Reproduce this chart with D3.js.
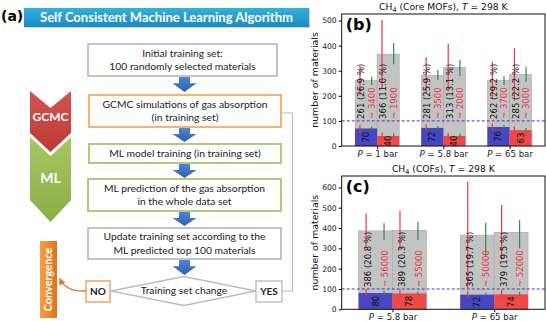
<!DOCTYPE html>
<html>
<head>
<meta charset="utf-8">
<script src="https://cdn.jsdelivr.net/npm/d3@7"></script>
<style>
  html, body { margin: 0; padding: 0; background: #fff; }
  svg { display: block; }
</style>
</head>
<body>
<svg id="fig" width="546" height="321"></svg>
<script>
// panel (b): CH4 in core MOFs
const mofPressures = ['1', '5.8', '65'];
const mofFoundA = [261, 281, 262];
const mofPctA = ['26.9', '25.9', '29.2'];
const mofCostA = [3400, 3500, 3700];
const mofTopA = [70, 72, 76];
const mofFoundB = [366, 313, 285];
const mofPctB = ['11.0', '13.1', '22.2'];
const mofCostB = [1900, 2000, 3000];
const mofTopB = [40, 40, 63];
const mofRedErrA = [[203, 319], [208, 354], [188, 336]];
const mofRedErrB = [[229, 503], [219, 407], [180, 390]];
const mofGreenErrA = [[243, 276], [263, 303], [243, 279]];
const mofGreenErrB = [[326, 410], [279, 343], [256, 316]];
const mofTopRedErrA = [[55, 85], [58, 86], [62, 90]];
const mofTopRedErrB = [[25, 55], [28, 52], [48, 78]];
const mofTopGreenErrA = [[62, 78], [65, 80], [70, 84]];
const mofTopGreenErrB = [[32, 50], [33, 50], [55, 72]];
const mofTicks = [0, 100, 200, 300, 400, 500];

// panel (c): CH4 in COFs
const cofPressures = ['5.8', '65'];
const cofFoundA = [386, 365];
const cofPctA = ['20.8', '19.7'];
const cofCostA = [56000, 50000];
const cofTopA = [80, 72];
const cofFoundB = [389, 379];
const cofPctB = ['20.3', '19.5'];
const cofCostB = [55000, 52000];
const cofTopB = [78, 74];
const cofRedErrA = [[300, 472], [102, 628]];
const cofRedErrB = [[293, 485], [245, 513]];
const cofGreenErrA = [[341, 423], [259, 426]];
const cofGreenErrB = [[341, 431], [300, 439]];
const cofTopRedErrA = [[62, 100], [55, 90]];
const cofTopRedErrB = [[60, 100], [55, 95]];
const cofTopGreenErrA = [[72, 90], [65, 82]];
const cofTopGreenErrB = [[70, 88], [65, 85]];
const cofTicks = [0, 100, 200, 300, 400, 500, 600];

const targetLine = 100;

// flowchart text
const flowSteps = [
  ['Initial training set:', '100 randomly selected materials'],
  ['GCMC simulations of gas absorption', '(in training set)'],
  ['ML model training (in training set)'],
  ['ML prediction of the gas absorption', 'in the whole data set'],
  ['Update training set according to the', 'ML predicted top 100 materials']
];

const svg = d3.select('#fig');
const defs = svg.append('defs');

// ------------------------------------------------------------------ charts
const chartFont = '"DejaVu Sans", sans-serif';
const colBlue = '#4646c0', colRed = '#ee4848', colGray = '#c3c3c3';
const colErrRed = '#e8394a', colErrGreen = '#2f8f3e';

function makeRows(p, found, pct, cost, top, redE, greenE, tRedE, tGreenE, side) {
  return p.map((c, i) => ({
    cat: c, side: side, found: found[i], pct: pct[i], cost: cost[i], top: top[i],
    red: redE[i], green: greenE[i], tRed: tRedE[i], tGreen: tGreenE[i]
  }));
}

function drawPanel(cfg) {
  const g = svg.append('g');
  const y = d3.scaleLinear().domain([0, cfg.ymax]).range([cfg.bottom, cfg.top]);
  const x = d3.scalePoint().domain(cfg.cats).range([cfg.left, cfg.right]).padding(cfg.pad);
  const bw = x.step() / 3;
  const bx = d => x(d.cat) - bw + d.side * bw;

  // grey bars: materials found
  g.selectAll('rect.found').data(cfg.rows).join('rect')
    .attr('class', 'found')
    .attr('x', bx).attr('width', bw)
    .attr('y', d => y(d.found)).attr('height', d => y(0) - y(d.found))
    .attr('fill', colGray).attr('stroke', '#a8a8a8').attr('stroke-width', 0.6);

  // blue / red bars: top-100 found
  g.selectAll('rect.top').data(cfg.rows).join('rect')
    .attr('class', 'top')
    .attr('x', bx).attr('width', bw)
    .attr('y', d => y(d.top)).attr('height', d => y(0) - y(d.top))
    .attr('fill', d => d.side ? colRed : colBlue);

  // error bars
  const err = (key, frac, col) => g.selectAll('line.' + key).data(cfg.rows).join('line')
    .attr('class', key)
    .attr('x1', d => bx(d) + frac * bw).attr('x2', d => bx(d) + frac * bw)
    .attr('y1', d => y(d[key][0])).attr('y2', d => y(d[key][1]))
    .attr('stroke', col).attr('stroke-width', 1.2);
  err('red', 0.22, colErrRed);
  err('green', 0.75, colErrGreen);
  err('tRed', 0.22, colErrRed);
  err('tGreen', 0.75, colErrGreen);

  // labels on bars (rotated)
  g.selectAll('text.found').data(cfg.rows).join('text')
    .attr('class', 'found')
    .attr('transform', d => `translate(${bx(d) + 0.28 * bw},${y(targetLine) - 2}) rotate(-90)`)
    .attr('dy', '0.35em')
    .attr('font-family', chartFont).attr('font-size', 8.5).attr('fill', '#111')
    .text(d => `${d.found} (${d.pct} %)`);

  g.selectAll('text.cost').data(cfg.rows).join('text')
    .attr('class', 'cost')
    .attr('transform', d => `translate(${bx(d) + 0.77 * bw},${y(targetLine) - 2}) rotate(-90)`)
    .attr('dy', '0.35em')
    .attr('font-family', chartFont).attr('font-size', 8.5).attr('fill', colErrRed)
    .text(d => `~ ${d.cost}`);

  g.selectAll('text.top').data(cfg.rows).join('text')
    .attr('class', 'top')
    .attr('transform', d => `translate(${bx(d) + 0.5 * bw},${y(d.top / 2)}) rotate(-90)`)
    .attr('dy', '0.35em').attr('text-anchor', 'middle')
    .attr('font-family', chartFont).attr('font-size', 8.5).attr('fill', '#111')
    .text(d => d.top);

  // dashed target line
  g.append('line')
    .attr('x1', cfg.left).attr('x2', cfg.right)
    .attr('y1', y(targetLine)).attr('y2', y(targetLine))
    .attr('stroke', '#3c3cc8').attr('stroke-width', 1).attr('stroke-dasharray', '3,2');

  // spines
  g.append('rect')
    .attr('x', cfg.left).attr('y', cfg.top)
    .attr('width', cfg.right - cfg.left).attr('height', cfg.bottom - cfg.top)
    .attr('fill', 'none').attr('stroke', '#111').attr('stroke-width', 1);

  // y axis
  const ya = g.append('g').attr('transform', `translate(${cfg.left},0)`)
    .call(d3.axisLeft(y).tickValues(cfg.ticks).tickSize(3).tickPadding(2));
  ya.select('.domain').remove();
  ya.selectAll('text').attr('font-family', chartFont).attr('font-size', 7.6).attr('fill', '#222');

  // x axis
  const xa = g.append('g').attr('transform', `translate(0,${cfg.bottom})`)
    .call(d3.axisBottom(x).tickSize(3).tickPadding(2));
  xa.select('.domain').remove();
  xa.selectAll('text').each(function (d) {
    const t = d3.select(this).text('')
      .attr('font-family', chartFont).attr('font-size', 8.6).attr('fill', '#222');
    t.append('tspan').attr('font-style', 'italic').text('P');
    t.append('tspan').text(` = ${d} bar`);
  });

  // title
  const tt = g.append('text')
    .attr('x', (cfg.left + cfg.right) / 2).attr('y', cfg.top - 4)
    .attr('text-anchor', 'middle')
    .attr('font-family', chartFont).attr('font-size', 9.2).attr('fill', '#111');
  tt.append('tspan').text('CH');
  tt.append('tspan').attr('font-size', 6.5).attr('dy', 2).text('4');
  tt.append('tspan').attr('dy', -2).text(` (${cfg.name}), `);
  tt.append('tspan').attr('font-style', 'italic').text('T');
  tt.append('tspan').text(' = 298 K');

  // y label
  g.append('text')
    .attr('transform', `translate(${cfg.left - 24},${(cfg.top + cfg.bottom) / 2}) rotate(-90)`)
    .attr('text-anchor', 'middle')
    .attr('font-family', chartFont).attr('font-size', 9.4).attr('fill', '#111')
    .text('number of materials');

  // panel letter
  g.append('text')
    .attr('x', cfg.left + 4).attr('y', cfg.top + 16)
    .attr('font-family', chartFont).attr('font-weight', 'bold').attr('font-size', 16)
    .attr('fill', '#000')
    .text(cfg.letter);
}

drawPanel({
  letter: '(b)', name: 'Core MOFs', cats: mofPressures,
  left: 341.7, right: 545, top: 14, bottom: 146, ymax: 526, pad: 0.536, ticks: mofTicks,
  rows: makeRows(mofPressures, mofFoundA, mofPctA, mofCostA, mofTopA, mofRedErrA, mofGreenErrA,
                 mofTopRedErrA, mofTopGreenErrA, 0)
    .concat(makeRows(mofPressures, mofFoundB, mofPctB, mofCostB, mofTopB, mofRedErrB, mofGreenErrB,
                 mofTopRedErrB, mofTopGreenErrB, 1))
});

drawPanel({
  letter: '(c)', name: 'COFs', cats: cofPressures,
  left: 341.7, right: 545, top: 176, bottom: 309.3, ymax: 656, pad: 0.5, ticks: cofTicks,
  rows: makeRows(cofPressures, cofFoundA, cofPctA, cofCostA, cofTopA, cofRedErrA, cofGreenErrA,
                 cofTopRedErrA, cofTopGreenErrA, 0)
    .concat(makeRows(cofPressures, cofFoundB, cofPctB, cofCostB, cofTopB, cofRedErrB, cofGreenErrB,
                 cofTopRedErrB, cofTopGreenErrB, 1))
});

// ------------------------------------------------------------------ flowchart (a)
const flowFont = 'Lato, "Open Sans", sans-serif';

function grad(id, c1, c2, horizontal) {
  const lg = defs.append('linearGradient').attr('id', id)
    .attr('x1', 0).attr('y1', 0).attr('x2', horizontal ? 1 : 0).attr('y2', horizontal ? 0 : 1);
  lg.append('stop').attr('offset', '0%').attr('stop-color', c1);
  lg.append('stop').attr('offset', '100%').attr('stop-color', c2);
}
grad('gBanner', '#35b0dc', '#1a8bc0', false);
grad('gRed', '#d3554f', '#b93a35', false);
grad('gGreen', '#a6c766', '#8aae45', false);
grad('gConv', '#f5a03e', '#e2711d', true);
grad('gArrow', '#4f86d4', '#2e5fae', false);

const fg = svg.append('g');

fg.append('text').attr('x', 1).attr('y', 21)
  .attr('font-family', chartFont).attr('font-weight', 'bold').attr('font-size', 14)
  .text('(a)');

fg.append('rect').attr('x', 25).attr('y', 9).attr('width', 285).attr('height', 19)
  .attr('fill', '#9ab').attr('opacity', 0.5);
fg.append('rect').attr('x', 24).attr('y', 8).attr('width', 285).attr('height', 19)
  .attr('fill', 'url(#gBanner)');
fg.append('text').attr('x', 166.5).attr('y', 17.5).attr('dy', '0.35em')
  .attr('text-anchor', 'middle').attr('fill', '#fff')
  .attr('font-family', flowFont).attr('font-weight', 'bold').attr('font-size', 13)
  .text('Self Consistent Machine Learning Algorithm');

// chevrons GCMC / ML
fg.append('path').attr('d', 'M30,91 L50.5,108 L71,91 L71,133 L50.5,152 L30,133 Z')
  .attr('fill', 'url(#gRed)');
fg.append('text').attr('x', 50.5).attr('y', 117).attr('dy', '0.35em').attr('text-anchor', 'middle')
  .attr('fill', '#fff').attr('font-family', flowFont).attr('font-weight', 'bold').attr('font-size', 12)
  .text('GCMC');
fg.append('path').attr('d', 'M30,137 L50.5,156 L71,137 L71,200 L50.5,222 L30,200 Z')
  .attr('fill', 'url(#gGreen)');
fg.append('text').attr('x', 50.5).attr('y', 178).attr('dy', '0.35em').attr('text-anchor', 'middle')
  .attr('fill', '#fff').attr('font-family', flowFont).attr('font-weight', 'bold').attr('font-size', 14)
  .text('ML');

// step boxes
const boxes = [
  { x: 88, y: 44, w: 189, h: 32, stroke: '#b4b4b4' },
  { x: 89, y: 95, w: 192, h: 32, stroke: '#f0a05a' },
  { x: 89, y: 144, w: 192, h: 19, stroke: '#9dbd5e' },
  { x: 88, y: 179, w: 193, h: 32, stroke: '#9dbd5e' },
  { x: 88, y: 228, w: 193, h: 31, stroke: '#b4b4b4' }
];
boxes.forEach((b, i) => {
  fg.append('rect').attr('x', b.x).attr('y', b.y).attr('width', b.w).attr('height', b.h)
    .attr('fill', '#fff').attr('stroke', b.stroke).attr('stroke-width', 1.6);
  const lines = flowSteps[i];
  const lh = 13.5;
  const y0 = b.y + b.h / 2 - (lines.length - 1) * lh / 2;
  lines.forEach((s, j) => {
    fg.append('text').attr('x', b.x + b.w / 2).attr('y', y0 + j * lh).attr('dy', '0.35em')
      .attr('text-anchor', 'middle').attr('fill', '#222')
      .attr('font-family', flowFont).attr('font-size', 10.3)
      .text(s);
  });
});

// blue down arrows
function downArrow(cx, y1, y2) {
  const h = y2 - y1, sh = h * 0.42;
  fg.append('path')
    .attr('d', `M${cx - 5.5},${y1} L${cx + 5.5},${y1} L${cx + 5.5},${y1 + sh} L${cx + 12},${y1 + sh}
      L${cx},${y2} L${cx - 12},${y1 + sh} L${cx - 5.5},${y1 + sh} Z`)
    .attr('fill', 'url(#gArrow)');
}
downArrow(184.5, 77, 92);
downArrow(184.5, 128, 142);
downArrow(184.5, 164, 178);
downArrow(184.5, 212, 226);
downArrow(184.5, 260, 275);

// decision diamond
fg.append('path').attr('d', 'M111,291 L184,276.5 L256,291 L184,305.5 Z')
  .attr('fill', '#fff').attr('stroke', '#bdbdbd').attr('stroke-width', 1.4);
fg.append('text').attr('x', 184).attr('y', 290.5).attr('dy', '0.35em').attr('text-anchor', 'middle')
  .attr('fill', '#222').attr('font-family', flowFont).attr('font-size', 10.3)
  .text('Training set change');

// loop back line from YES to GCMC box
fg.append('path').attr('d', 'M282,291 L292.5,291 L292.5,113 L281,113')
  .attr('fill', 'none').attr('stroke', '#bdbdbd').attr('stroke-width', 1.2);

fg.append('rect').attr('x', 86).attr('y', 281).attr('width', 24).attr('height', 21)
  .attr('fill', '#fff').attr('stroke', '#f0a05a').attr('stroke-width', 1.4);
fg.append('text').attr('x', 98).attr('y', 291.5).attr('dy', '0.35em').attr('text-anchor', 'middle')
  .attr('fill', '#222').attr('font-family', flowFont).attr('font-weight', 'bold').attr('font-size', 10)
  .text('NO');
fg.append('rect').attr('x', 256).attr('y', 281).attr('width', 26).attr('height', 21)
  .attr('fill', '#fff').attr('stroke', '#bdbdbd').attr('stroke-width', 1.4);
fg.append('text').attr('x', 269).attr('y', 291.5).attr('dy', '0.35em').attr('text-anchor', 'middle')
  .attr('fill', '#222').attr('font-family', flowFont).attr('font-weight', 'bold').attr('font-size', 10)
  .text('YES');

// convergence
fg.append('rect').attr('x', 40).attr('y', 241).attr('width', 17).attr('height', 77)
  .attr('fill', 'url(#gConv)');
fg.append('text').attr('transform', 'translate(48.5,279.5) rotate(-90)').attr('dy', '0.35em')
  .attr('text-anchor', 'middle').attr('fill', '#fff')
  .attr('font-family', flowFont).attr('font-weight', 'bold').attr('font-size', 11)
  .text('Convergence');

defs.append('marker').attr('id', 'arrOr').attr('viewBox', '0 0 10 10')
  .attr('refX', 8).attr('refY', 5).attr('markerWidth', 5).attr('markerHeight', 5)
  .attr('orient', 'auto')
  .append('path').attr('d', 'M0,0 L10,5 L0,10 Z').attr('fill', '#e8782a');
fg.append('path').attr('d', 'M86,291 Q66,292 60,279')
  .attr('fill', 'none').attr('stroke', '#e8782a').attr('stroke-width', 1.4)
  .attr('marker-end', 'url(#arrOr)');
</script>
</body>
</html>
